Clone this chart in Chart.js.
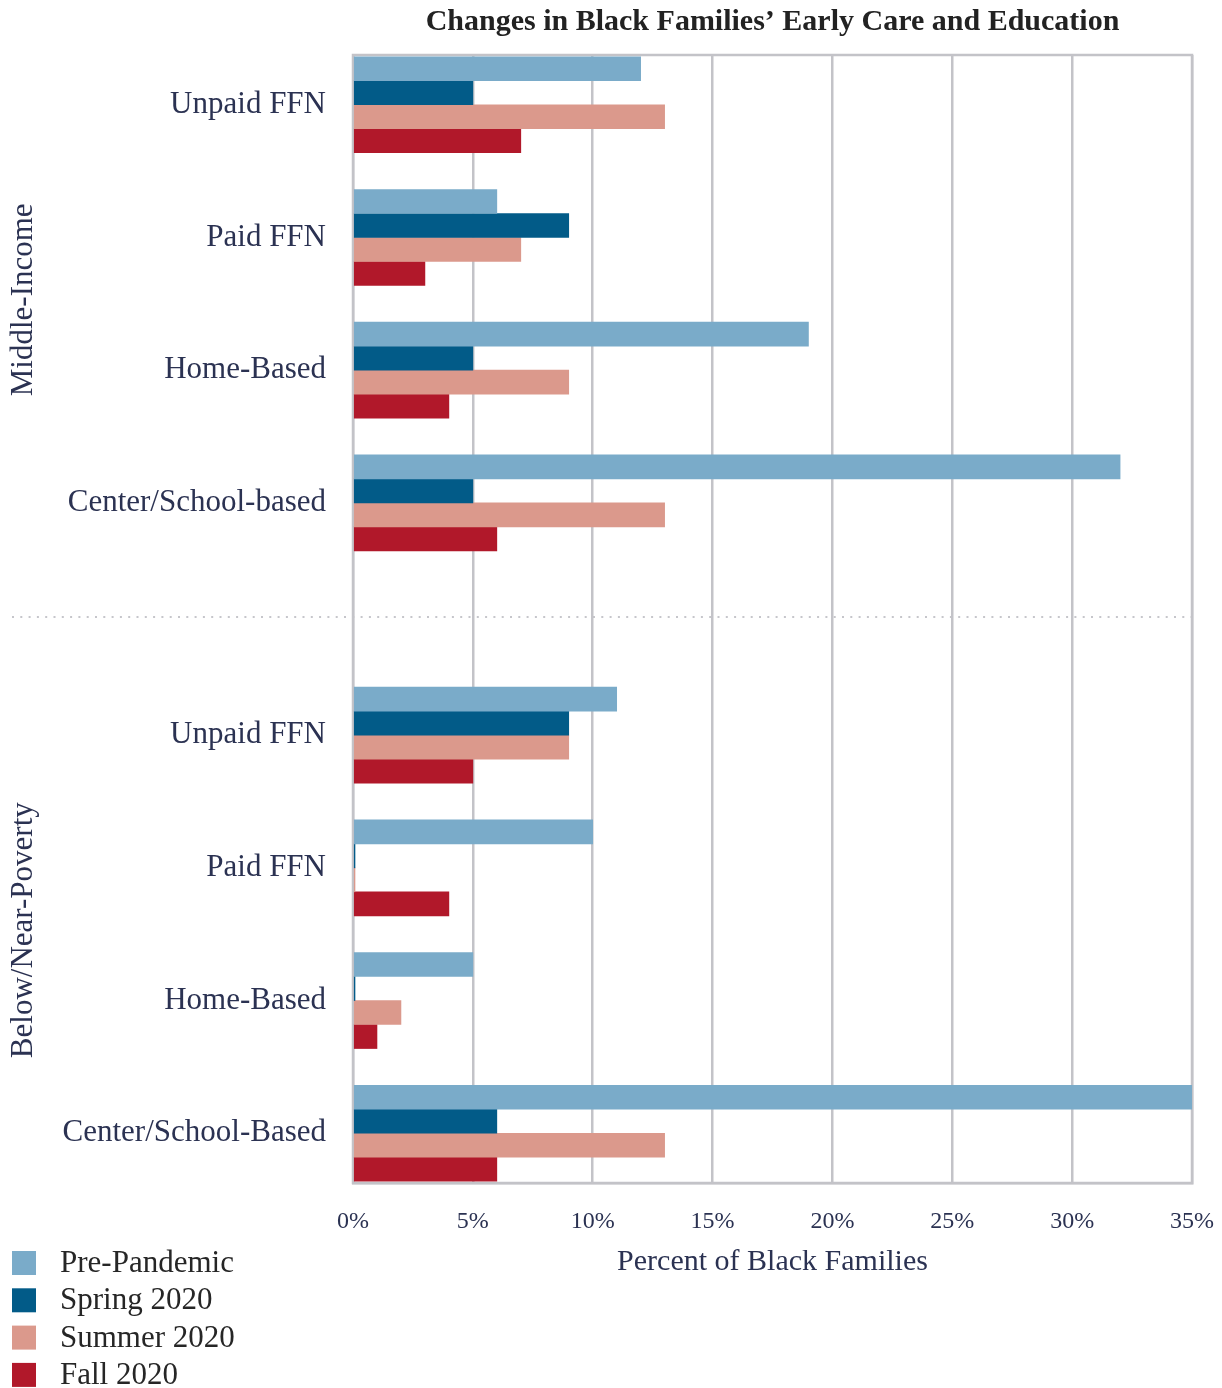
<!DOCTYPE html>
<html>
<head>
<meta charset="utf-8">
<script src="https://cdn.jsdelivr.net/npm/chart.js@4"></script>
<style>
  html, body { margin: 0; padding: 0; background: #fff; }
  #wrap { width: 1222px; height: 1388px; }
</style>
</head>
<body>
<div id="wrap"><canvas id="chart" width="1222" height="1388"></canvas></div>
<script>
// values (percent of Black families)
var groups = ['Middle-Income', 'Below/Near-Poverty'];
var middleCats = ['Unpaid FFN', 'Paid FFN', 'Home-Based', 'Center/School-based'];
var povertyCats = ['Unpaid FFN', 'Paid FFN', 'Home-Based', 'Center/School-Based'];
var seriesNames = ['Pre-Pandemic', 'Spring 2020', 'Summer 2020', 'Fall 2020'];
var prePandemic = [12, 6, 19, 32, 11, 10, 5, 35];
var spring2020 = [5, 9, 5, 5, 9, 0, 0, 6];
var summer2020 = [13, 7, 9, 13, 9, 0, 2, 13];
var fall2020 = [7, 3, 4, 6, 5, 4, 1, 6];
var xTicks = [0, 5, 10, 15, 20, 25, 30, 35];

var colors = ['#7aabc9', '#025b88', '#db998c', '#b1182a'];
var navy = '#2b3252';
var serif = "'Liberation Serif', 'DejaVu Serif', serif";

// the category axis is split into small slots so the gap between the two
// groups can be wider than the gap between categories
var SLOT = 4, GAP = 7;
var labels = [''];
var slotOf = [];
function addGroup(cats) {
    cats.forEach(function (c, i) {
        slotOf.push(labels.length);
        labels.push(c);
        if (i < cats.length - 1) for (var k = 1; k < SLOT; k++) labels.push('');
    });
}
addGroup(middleCats);
for (var g = 1; g < GAP; g++) labels.push('');
addGroup(povertyCats);
labels.push('');

function spread(values) {
    var out = labels.map(function () { return null; });
    values.forEach(function (v, i) { out[slotOf[i]] = v; });
    return out;
}

var allSeries = [prePandemic, spring2020, summer2020, fall2020];
var datasets = allSeries.map(function (vals, i) {
    return {
        label: seriesNames[i],
        data: spread(vals),
        backgroundColor: colors[i],
        barThickness: 24,
        minBarLength: 2
    };
});

var extras = {
    id: 'extras',
    beforeDraw: function (chart) {
        var ctx = chart.ctx, y = chart.scales.y, a = chart.chartArea;
        // dotted separator between the two groups
        var sepY = (y.getPixelForValue(slotOf[3]) + y.getPixelForValue(slotOf[4])) / 2 - 2;
        ctx.save();
        ctx.strokeStyle = '#c6c6cb';
        ctx.lineWidth = 2;
        ctx.setLineDash([2, 6.3]);
        ctx.beginPath();
        ctx.moveTo(12, sepY);
        ctx.lineTo(a.right + 2, sepY);
        ctx.stroke();
        ctx.restore();
    },
    beforeDatasetsDraw: function (chart) {
        var ctx = chart.ctx, a = chart.chartArea;
        ctx.save();
        ctx.strokeStyle = '#c3c3c8';
        ctx.lineWidth = 2.5;
        ctx.strokeRect(a.left, a.top, a.right - a.left, a.bottom - a.top);
        ctx.restore();
    },
    afterDraw: function (chart) {
        var ctx = chart.ctx, y = chart.scales.y, a = chart.chartArea;
        ctx.save();
        // title
        ctx.fillStyle = '#222222';
        ctx.font = 'bold 30px ' + serif;
        ctx.textAlign = 'center';
        ctx.textBaseline = 'middle';
        ctx.fillText('Changes in Black Families\u2019 Early Care and Education', (a.left + a.right) / 2, 22);
        // rotated group labels
        ctx.fillStyle = navy;
        ctx.font = '31px ' + serif;
        groups.forEach(function (name, gi) {
            var top = y.getPixelForValue(slotOf[gi * 4]);
            var bottom = y.getPixelForValue(slotOf[gi * 4 + 3]);
            ctx.save();
            ctx.translate(24, (top + bottom) / 2 - 4);
            ctx.rotate(-Math.PI / 2);
            ctx.fillText(name, 0, 0);
            ctx.restore();
        });
        // legend, bottom left
        ctx.textAlign = 'left';
        ctx.font = '31px ' + serif;
        chart.data.datasets.forEach(function (ds, i) {
            var yy = 1251 + i * 37.3;
            ctx.fillStyle = ds.backgroundColor;
            ctx.fillRect(12, yy, 24, 24);
            ctx.fillStyle = '#262626';
            ctx.fillText(ds.label, 60, yy + 13);
        });
        ctx.restore();
    }
};

new Chart(document.getElementById('chart'), {
    type: 'bar',
    data: { labels: labels, datasets: datasets },
    options: {
        indexAxis: 'y',
        responsive: false,
        animation: false,
        layout: { padding: { top: 55, right: 30, bottom: 0, left: 0 } },
        plugins: {
            legend: { display: false },
            tooltip: { enabled: false }
        },
        scales: {
            y: {
                type: 'category',
                grid: { display: false, drawTicks: false },
                border: { display: false },
                ticks: {
                    autoSkip: false,
                    padding: 27,
                    color: navy,
                    font: { family: serif, size: 31 }
                },
                afterFit: function (scale) { scale.width = 353; }
            },
            x: {
                min: 0,
                max: 35,
                afterBuildTicks: function (scale) {
                    scale.ticks = xTicks.map(function (v) { return { value: v }; });
                },
                grid: { color: '#c3c3c8', lineWidth: 2.5, drawTicks: false },
                border: { color: '#c3c3c8', width: 2.5 },
                ticks: {
                    padding: 24,
                    color: navy,
                    font: { family: serif, size: 24 },
                    callback: function (v) { return v + '%'; }
                },
                title: {
                    display: true,
                    text: 'Percent of Black Families',
                    color: navy,
                    font: { family: serif, size: 30 },
                    padding: { top: 0, bottom: 108 }
                },
                afterFit: function (scale) {
                    scale.height = 1388 - 1183;
                    scale.paddingLeft = 0;
                    scale.paddingRight = 0;
                }
            }
        }
    },
    plugins: [extras]
});
</script>
</body>
</html>
